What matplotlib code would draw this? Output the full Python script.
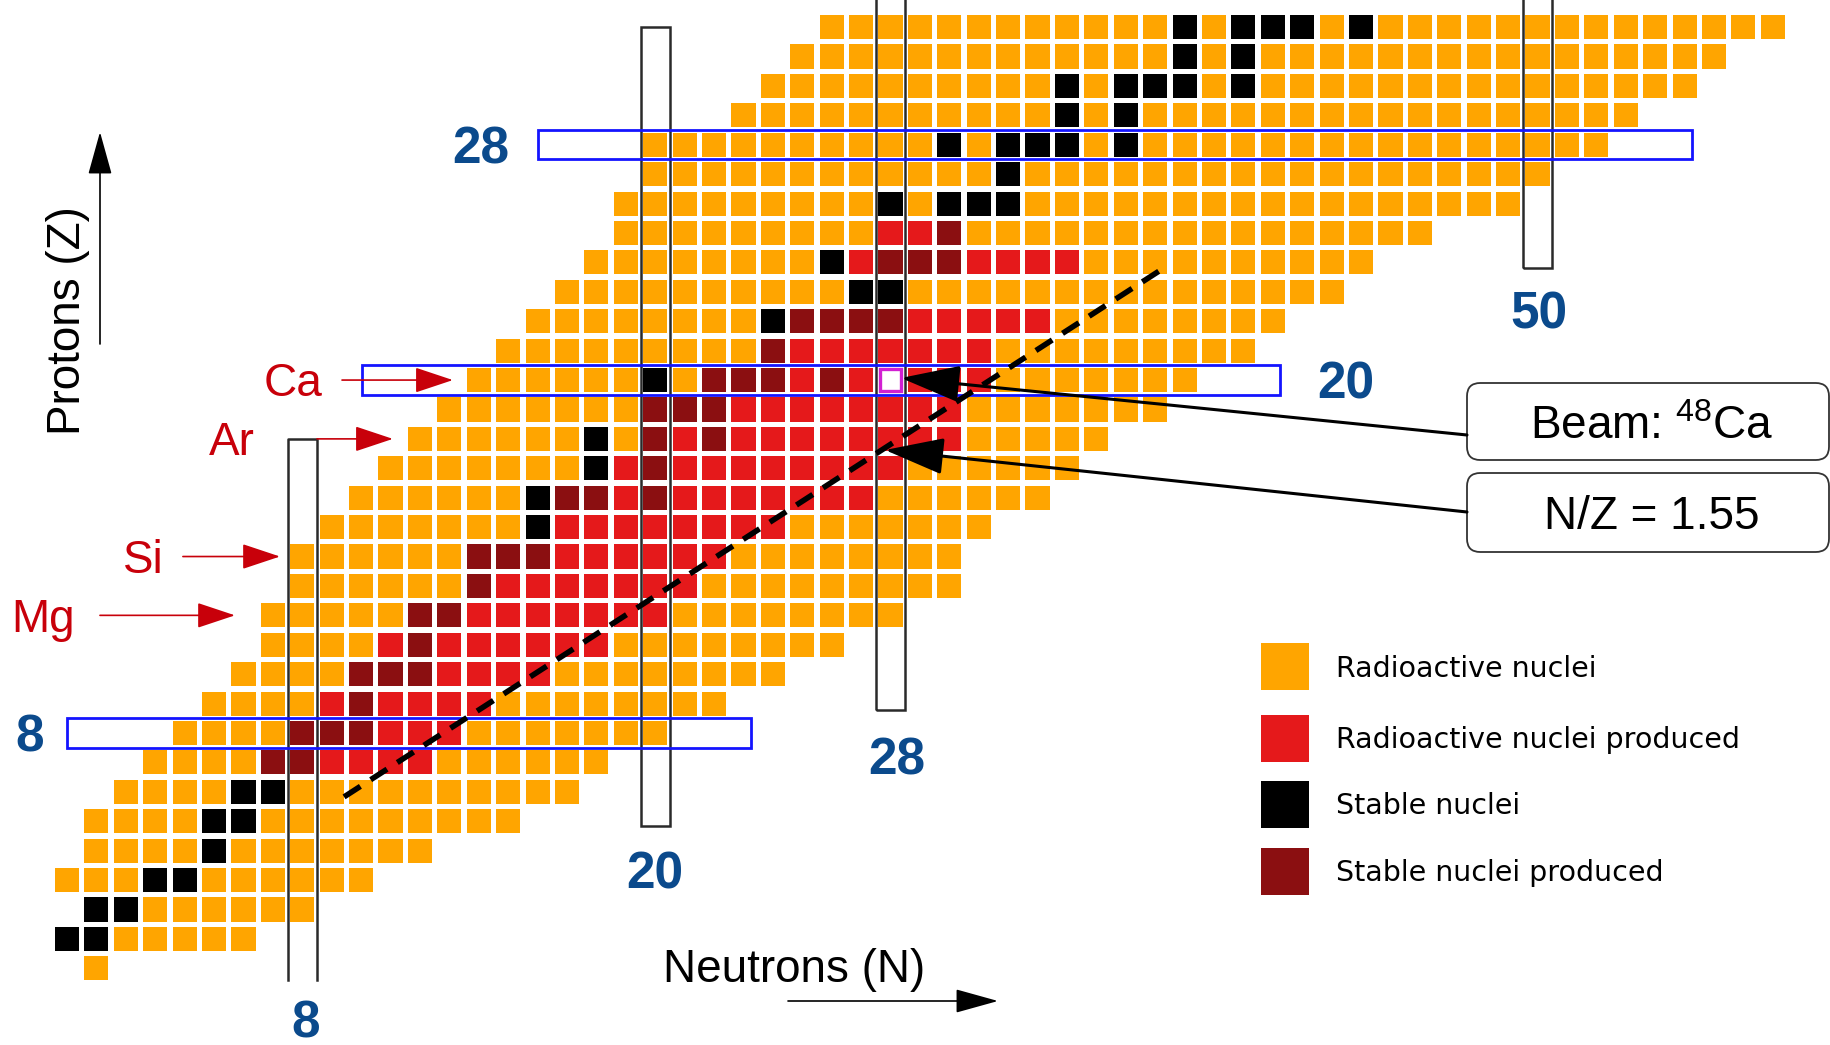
import matplotlib.pyplot as plt
from matplotlib.patches import Rectangle, FancyBboxPatch
from matplotlib.collections import PatchCollection

plt.rcParams['font.family'] = 'Liberation Sans'
plt.rcParams['mathtext.fontset'] = 'custom'
plt.rcParams['mathtext.rm'] = 'Liberation Sans'

# chart of nuclides, one row per proton number Z = 0 .. 32
row_z = list(range(33))
row_first = [1, 0, 1, 0, 1, 1, 2, 3, 4, 5, 6, 7, 7, 8, 8, 9, 10,
             11, 12, 13, 14, 15, 16, 17, 18, 19, 19, 20, 20, 23, 24, 25, 26]
row_last = [1, 6, 8, 10, 12, 15, 17, 18, 20, 22, 24, 26, 28, 30, 30, 31, 33,
            34, 35, 37, 38, 40, 41, 43, 44, 46, 49, 50, 52, 53, 55, 56, 58]
# neutron numbers of the stable nuclei in each row
stable_n = [[], [0, 1], [1, 2], [3, 4], [5], [5, 6], [6, 7], [7, 8], [8, 9, 10],
            [10], [10, 11, 12], [12], [12, 13], [14], [14, 15, 16], [16],
            [16, 17, 18, 20], [18, 20], [18, 20, 22], [20, 21, 22],
            [20, 22, 23, 24, 26], [24], [24, 25, 26, 27, 28], [27, 28],
            [26, 28, 29, 30], [30], [28, 30, 31, 32], [32],
            [30, 32, 33, 34, 36], [34, 36], [34, 36, 37, 38, 40], [38, 40],
            [38, 40, 41, 42, 44]]
# range of N produced in each row (None = nothing produced)
produced_lo = [None] * 7 + [7, 8, 9, 10, 11, 12, 14, 14, 17, 17, 19, 20, 20,
                            22, 24, 25, None, 27, 28] + [None] * 7
produced_hi = [None] * 7 + [12, 13, 14, 16, 18, 20, 21, 22, 24, 27, 28, 30, 30,
                            31, 31, 33, None, 34, 30] + [None] * 7
beam_z, beam_n = 20, 28
nz_ratio = 1.55

magic_n = [8, 20, 28, 50]
magic_z = [8, 20, 28]

elements = ['Mg', 'Si', 'Ar', 'Ca']
element_z = [12, 14, 18, 20]

legend_labels = ['Radioactive nuclei', 'Radioactive nuclei produced',
                 'Stable nuclei', 'Stable nuclei produced']

ORANGE = '#ffa500'
RED = '#e5191b'
BLACK = '#000000'
DARKRED = '#8b0f11'
BLUE_TXT = '#0b4a8c'
RED_TXT = '#c8000a'

# one chart cell is 29.41 px; helpers turn pixel positions into N/Z units
PX = 29.41
X0, Y0 = -2.279, 32.923
def dx(px):
    return X0 + px / PX
def dy(py):
    return Y0 - py / PX

fig = plt.figure(figsize=(18.3, 10.45), dpi=100)
ax = fig.add_axes([0, 0, 1, 1])
ax.set_xlim(dx(0), dx(1830))
ax.set_ylim(dy(1045), dy(0))
ax.axis('off')

cells, colours = [], []
for z, n0, n1, st, lo, hi in zip(row_z, row_first, row_last, stable_n,
                                 produced_lo, produced_hi):
    for n in range(n0, n1 + 1):
        if (z, n) == (beam_z, beam_n):
            continue
        produced = lo is not None and lo <= n <= hi
        if n in st:
            c = DARKRED if produced else BLACK
        else:
            c = RED if produced else ORANGE
        cells.append(Rectangle((n - 0.41, z - 0.41), 0.82, 0.82))
        colours.append(c)
ax.add_collection(PatchCollection(cells, facecolors=colours,
                                  edgecolors='none', zorder=1))

# beam nucleus
ax.add_patch(Rectangle((beam_n - 0.37, beam_z - 0.37), 0.74, 0.74,
                       fc='white', ec='#d21fd2', lw=2.4, zorder=1))

# closed shell boxes
col_bottom = [-0.40, 4.84, 8.78, 23.8]
col_top = [18.0, 32.0, 33.5, 33.5]
for n, b, t in zip(magic_n, col_bottom, col_top):
    if n == 8:
        ax.plot([n - 0.5, n - 0.5, n + 0.5, n + 0.5], [b, t, t, b],
                color='#2a2a2a', lw=1.8, zorder=2)
    else:
        ax.add_patch(Rectangle((n - 0.5, b), 1, t - b, fill=False,
                               ec='#2a2a2a', lw=1.8, zorder=2))
row_left = [0.0, 10.03, 16.0]
row_right = [23.25, 41.24, 55.25]
for z, l, r in zip(magic_z, row_left, row_right):
    ax.add_patch(Rectangle((l, z - 0.5), r - l, 1.0, fill=False,
                           ec='#1414ff', lw=2, zorder=2))

# N/Z line
dash_n = [9.42, 37.2]
dash_z = [n / nz_ratio - 0.25 for n in dash_n]
ax.plot(dash_n, dash_z, color='k', lw=4, ls=(0, (3.5, 2.2)),
        dash_capstyle='butt', zorder=3)


def label(x, y, s, size, cap=0.716, **kw):
    # capital letters centred on y
    base = y - cap / 2 * size * 100 / 72 / PX
    ax.text(x, base, s, fontsize=size, ha='center', va='baseline', **kw)


def arrow(x0, y0, x1, y1, color, lw, hl, hw):
    ax.annotate('', xy=(x1, y1), xytext=(x0, y0), zorder=5,
                arrowprops=dict(arrowstyle=f'-|>,head_length={hl},head_width={hw}',
                                mutation_scale=10, lw=lw, color=color,
                                shrinkA=0, shrinkB=0))


# magic numbers
for n, x, y in zip(magic_n, [8.1, 20.0, 28.2, 50.05], [-1.72, 3.34, 7.22, 22.38]):
    label(x, y, str(n), 37, color=BLUE_TXT, fontweight='bold')
for z, x in zip(magic_z, [-1.26, 43.49, 14.08]):
    label(x, z, str(z), 37, color=BLUE_TXT, fontweight='bold')

# element pointers
for el, z, tx, a0, a1 in zip(elements, element_z, [-0.82, 2.58, 5.61, 7.70],
                             [1.12, 3.94, 8.5, 9.35], [5.71, 7.24, 11.08, 13.12]):
    label(tx, z, el, 33, color=RED_TXT)
    arrow(a0, z, a1, z, RED_TXT, 1.2, 2.4, 0.8)

# axis titles and arrows
ax.text(dx(80), dy(321), 'Protons (Z)', rotation=90, rotation_mode='anchor',
        ha='center', va='baseline', fontsize=33)
arrow(dx(100), dy(344), dx(100), dy(132), 'k', 1.2, 2.7, 0.75)
label(dx(794), dy(966), 'Neutrons (N)', 33)
arrow(dx(788), dy(1001), dx(998), dy(1001), 'k', 1.2, 2.7, 0.75)

# legend
legend_colours = [ORANGE, RED, BLACK, DARKRED]
for lab, c, yc in zip(legend_labels, legend_colours, [667, 738, 804, 871]):
    ax.add_patch(Rectangle((dx(1261), dy(yc + 23.5)), 48 / PX, 47 / PX,
                           fc=c, ec='none'))
    base = dy(yc) - 0.729 / 2 * 20.5 * 100 / 72 / PX
    ax.text(dx(1336), base, lab, fontsize=20.5, family='DejaVu Sans',
            ha='left', va='baseline')

# beam / ratio boxes
box_text = [r'Beam: $\mathregular{^{%d}}$Ca' % (beam_z + beam_n), f'N/Z = {nz_ratio}']
for (top, bot, yc), txt in zip([(383, 460, 423), (473, 552, 513)], box_text):
    ax.add_patch(FancyBboxPatch((dx(1467), dy(bot)), (1829 - 1467) / PX,
                                (bot - top) / PX,
                                boxstyle='round,pad=0,rounding_size=0.45',
                                fc='white', ec='#333333', lw=1.3, zorder=4))
    label(dx(1652), dy(yc), txt, 33, zorder=5)

arrow(dx(1467), dy(435), dx(901), dy(378), 'k', 2.2, 3.7, 1.15)
arrow(dx(1467), dy(512), dx(885), dy(450), 'k', 2.2, 3.7, 1.15)

fig.savefig('out.png', dpi=100)
